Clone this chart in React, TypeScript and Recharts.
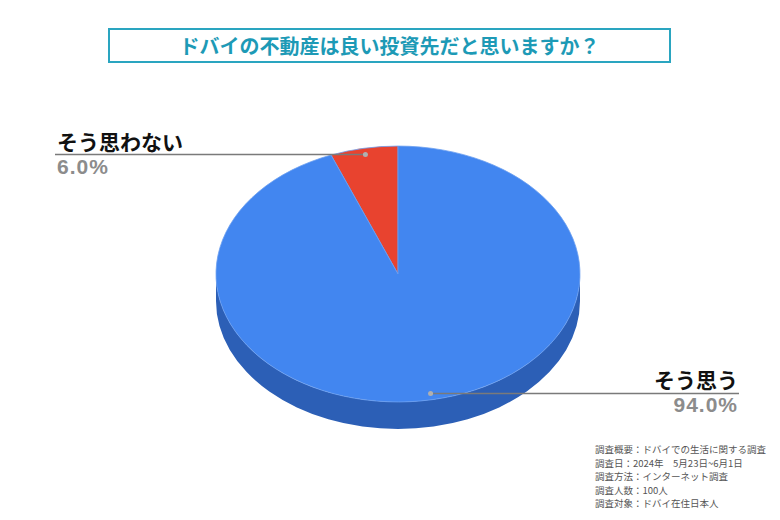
import { PieChart, Pie } from 'recharts';

const categories = ['そう思わない', 'そう思う'];
const shares = [6.0, 94.0];
const colors = ['#e8432f', '#4286f0'];
const notes = [
  '調査概要：ドバイでの生活に関する調査',
  '調査日：2024年　5月23日~6月1日',
  '調査方法：インターネット調査',
  '調査人数：100人',
  '調査対象：ドバイ在住日本人',
];

const data = categories.map((name, i) => ({ name, value: shares[i], fill: colors[i] }));

const SQUASH = 0.703;
const DEPTH = 27;
const FONT = '"Noto Sans CJK JP", "Noto Sans", sans-serif';

const pt = (cx: number, cy: number, rx: number, ry: number, deg: number) => {
  const a = (deg * Math.PI) / 180;
  return [cx + rx * Math.cos(a), cy - ry * Math.sin(a)];
};

// elliptical sector + front side wall, angles come from the Pie layout
const Slice3D = (props: any) => {
  const { cx, cy, outerRadius, startAngle, endAngle, fill } = props;
  const rx = outerRadius;
  const ry = outerRadius * SQUASH;
  const s = Math.min(startAngle, endAngle);
  const e = Math.max(startAngle, endAngle);
  const [x1, y1] = pt(cx, cy, rx, ry, s);
  const [x2, y2] = pt(cx, cy, rx, ry, e);
  const large = e - s > 180 ? 1 : 0;
  const top = `M${cx},${cy} L${x1},${y1} A${rx},${ry} 0 ${large} 0 ${x2},${y2} Z`;
  const sides: string[] = [];
  [0, 360].forEach((off) => {
    const a = Math.max(s, 180 + off);
    const b = Math.min(e, 360 + off);
    if (b > a) {
      const [ax, ay] = pt(cx, cy, rx, ry, a);
      const [bx, by] = pt(cx, cy, rx, ry, b);
      sides.push(
        `M${ax},${ay} A${rx},${ry} 0 0 0 ${bx},${by} L${bx},${by + DEPTH} A${rx},${ry} 0 0 1 ${ax},${ay + DEPTH} Z`
      );
    }
  });
  const sideFill = fill === colors[1] ? '#2c5fb6' : '#a82a1e';
  return (
    <g>
      {sides.map((d, i) => (
        <path key={i} d={d} fill={sideFill} />
      ))}
      <path d={top} fill={fill} stroke="#6c9ff0" strokeWidth={0.8} />
    </g>
  );
};

const renderLabel = (props: any) => {
  const { cx, cy, outerRadius, midAngle, name, percent } = props;
  const rx = outerRadius * 0.955;
  const ry = outerRadius * SQUASH * 0.95;
  const [px, py] = pt(cx, cy, rx, ry, midAngle);
  const left = Math.cos((midAngle * Math.PI) / 180) < 0;
  const endX = left ? 55 : 739;
  const anchor = left ? 'start' : 'end';
  const tx = left ? endX + 2 : endX - 1;
  return (
    <g>
      <line x1={px} y1={py} x2={endX} y2={py} stroke="#7a7a7a" strokeWidth={1.5} />
      <circle cx={px} cy={py} r={2.5} fill="#b0b0b0" />
      <text x={tx} y={py - 5} textAnchor={anchor} fontSize={21} fontWeight={700} fill="#111" fontFamily={FONT}>
        {name}
      </text>
      <text
        x={tx}
        y={py + 19}
        textAnchor={anchor}
        fontSize={21}
        fontWeight={700}
        letterSpacing={1}
        fill="#8c8c8c"
        fontFamily='"Liberation Sans", Arial, sans-serif'
      >
        {`${(percent * 100).toFixed(1)}%`}
      </text>
    </g>
  );
};

export default function App() {
  return (
    <div style={{ position: 'absolute', left: 0, top: 0, width: 780, height: 520, background: '#fff', fontFamily: FONT }}>
      <PieChart width={780} height={520} style={{ position: 'absolute', left: 0, top: 0 }}>
        <Pie
          data={data}
          dataKey="value"
          nameKey="name"
          cx={393}
          cy={269}
          outerRadius={182}
          startAngle={90}
          endAngle={450}
          stroke="none"
          shape={Slice3D}
          label={renderLabel}
          labelLine={false}
          isAnimationActive={false}
        />
      </PieChart>
      <div
        style={{
          position: 'absolute', left: 108, top: 28, width: 563, height: 35, boxSizing: 'border-box',
          border: '2px solid #2aa5c0', color: '#1d9ab6', fontSize: 20, fontWeight: 700,
          display: 'flex', alignItems: 'center', justifyContent: 'center',
        }}
      >
        ドバイの不動産は良い投資先だと思いますか？
      </div>
      <div style={{ position: 'absolute', left: 595, top: 443, fontSize: 9.5, lineHeight: '13.5px', color: '#555' }}>
        {notes.map((n) => (
          <div key={n} style={{ height: 13.5, whiteSpace: 'nowrap' }}>{n}</div>
        ))}
      </div>
    </div>
  );
}
